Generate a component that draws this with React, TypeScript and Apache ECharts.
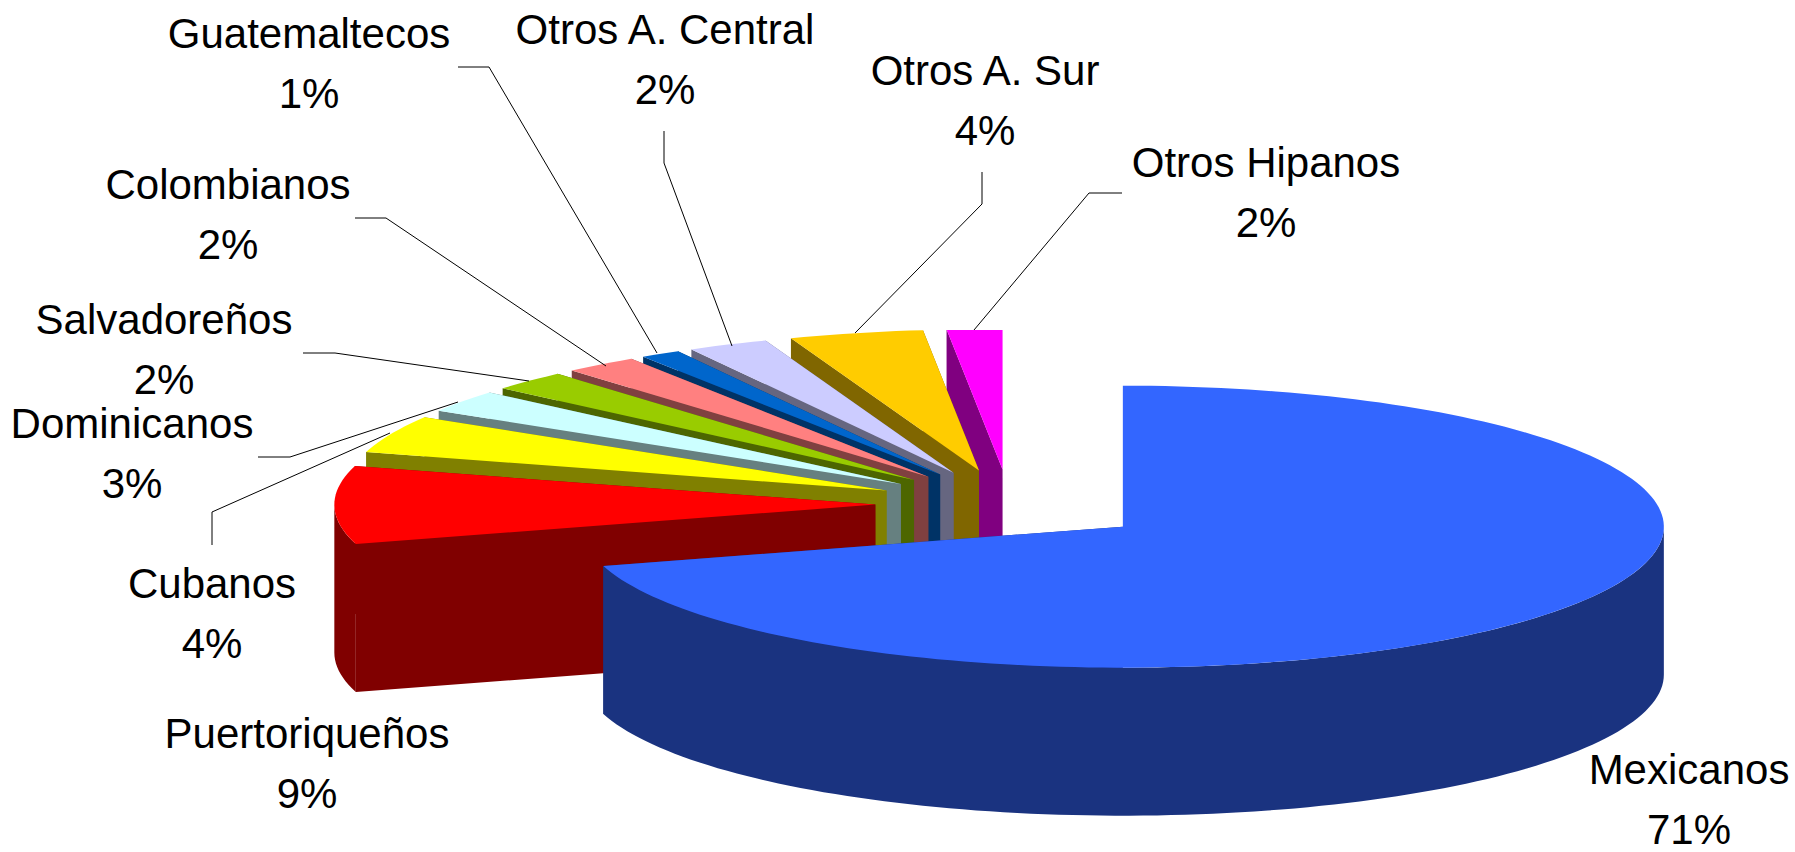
import React, { useEffect, useRef } from "react";
import * as echarts from "echarts";

const categories = [
  "Mexicanos", "Puertoriqueños", "Cubanos", "Dominicanos", "Salvadoreños",
  "Colombianos", "Guatemaltecos", "Otros A. Central", "Otros A. Sur", "Otros Hipanos",
];
const values = [70.5, 8.9, 4.3, 2.55, 2.3, 2.2, 1.2, 2.4, 4.0, 1.65];
const explosions = [0.262, 0.248, 0.248, 0.248, 0.248, 0.248, 0.248, 0.248, 0.248, 0.248];
const topColors = ["#3366FF", "#FF0000", "#FFFF00", "#CCFFFF", "#99CC00", "#FF8080", "#0066CC", "#CCCCFF", "#FFCC00", "#FF00FF"];
const sideColors = ["#1A3380", "#800000", "#808000", "#668080", "#4D6600", "#804040", "#003366", "#666680", "#806600", "#800080"];

const labelCenters = [
  [1689, 799], [307, 763], [212, 613], [132, 453], [164, 349],
  [228, 214], [309, 63], [665, 59], [985, 100], [1266, 192],
];
const leaders = [
  null,
  null,
  [[212, 545], [212, 512], [390, 433]],
  [[258, 457], [290, 457], [458, 402]],
  [[303, 353], [335, 353], [529, 381]],
  [[355, 218], [386, 218], [606, 366]],
  [[458, 67], [489, 67], [657, 353]],
  [[664, 131], [664, 163], [732, 346]],
  [[982, 172], [982, 204], [855, 333]],
  [[1122, 193], [1089, 193], [974, 330]],
];

const CENTER = { x: 1009.5, y: 504.5 };
const RX = 541;
const RY = 141;
const DEPTH = 148;
const CLIP = { x: 334, y: 330, width: 1332, height: 522 };

const total = values.reduce((a, b) => a + b, 0);

function sliceAngles(i: number) {
  let before = 0;
  for (let k = 0; k < i; k++) before += values[k];
  const a0 = (before / total) * 360;
  const a1 = ((before + values[i]) / total) * 360;
  return [a0, a1];
}

function renderSlice(params: any, api: any) {
  const i = params.dataIndex;
  const [a0, a1] = sliceAngles(i);
  const rad = (d: number) => (d * Math.PI) / 180;
  const mid = (a0 + a1) / 2;
  const ox = CENTER.x + explosions[i] * RX * Math.sin(rad(mid));
  const oy = CENTER.y - explosions[i] * RY * Math.cos(rad(mid));
  const pt = (d: number, dz = 0) => [ox + RX * Math.sin(rad(d)), oy - RY * Math.cos(rad(d)) + dz];
  const arc = (from: number, to: number, dz = 0) => {
    const out: number[][] = [];
    const n = Math.max(1, Math.ceil(Math.abs(to - from) / 1.5));
    for (let k = 0; k <= n; k++) out.push(pt(from + ((to - from) * k) / n, dz));
    return out;
  };
  const base = (values.length - i) * 10;
  const clipPath = { type: "rect", shape: { ...CLIP } };
  const poly = (points: number[][], fill: string, z: number) => ({
    type: "polygon",
    shape: { points },
    style: { fill, stroke: "none" },
    z2: base + z,
    clipPath,
    silent: true,
  });
  const children: any[] = [];
  const side = sideColors[i];
  children.push(poly([[ox, oy], pt(a1), pt(a1, DEPTH), [ox, oy + DEPTH]], side, 0));
  children.push(poly([[ox, oy], pt(a0), pt(a0, DEPTH), [ox, oy + DEPTH]], side, 1));
  const f0 = Math.max(a0, 90);
  const f1 = Math.min(a1, 270);
  if (f1 > f0) {
    children.push(poly([...arc(f0, f1), ...arc(f1, f0, DEPTH)], side, 2));
  }
  children.push(poly([[ox, oy], ...arc(a0, a1)], topColors[i], 3));
  return { type: "group", children };
}

export default function App() {
  const ref = useRef<HTMLDivElement>(null);
  useEffect(() => {
    const chart = echarts.init(ref.current!, null, { renderer: "svg" });
    const graphics: any[] = [];
    categories.forEach((name, i) => {
      graphics.push({
        type: "text",
        x: labelCenters[i][0],
        y: labelCenters[i][1],
        z: 10,
        style: {
          text: `${name}\n${Math.round(values[i])}%`,
          font: '42px "Liberation Sans", Arial, sans-serif',
          fill: "#000000",
          align: "center",
          verticalAlign: "middle",
          lineHeight: 60,
        },
      });
      const l = leaders[i];
      if (l) {
        graphics.push({
          type: "polyline",
          z: 10,
          shape: { points: l },
          style: { stroke: "#000000", lineWidth: 1, fill: "none" },
        });
      }
    });
    chart.setOption({
      animation: false,
      backgroundColor: "#FFFFFF",
      series: [
        {
          type: "custom",
          coordinateSystem: "none",
          renderItem: renderSlice,
          data: values,
          clip: false,
          silent: true,
        },
      ],
      graphic: graphics,
    });
    return () => chart.dispose();
  }, []);
  return (
    <div
      ref={ref}
      style={{ position: "absolute", left: 0, top: 0, width: 1795, height: 852, background: "#fff" }}
    />
  );
}
